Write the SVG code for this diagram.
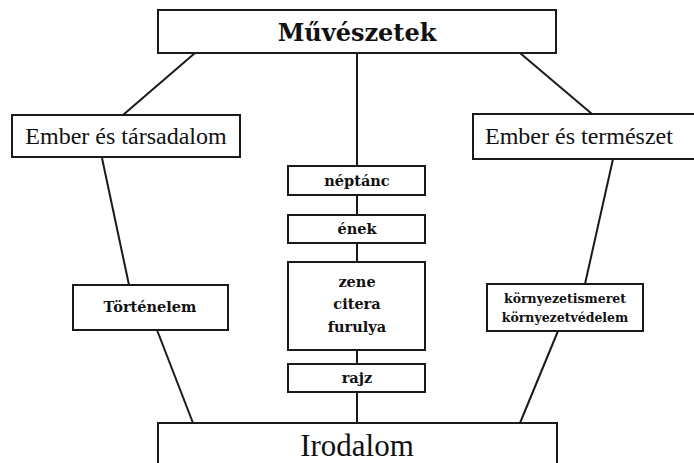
<svg xmlns="http://www.w3.org/2000/svg" width="694" height="463" viewBox="0 0 694 463">
<style>
.box{fill:#fff;stroke:#1a1a1a;stroke-width:2}
.ln{stroke:#1a1a1a;stroke-width:2;fill:none}
text{font-family:"DejaVu Serif","Liberation Serif",serif;fill:#111;text-anchor:middle}
.big{font-size:24px;font-weight:bold}
.mid{font-size:24px;font-family:"Liberation Serif",serif}
.sm{font-size:14.5px;font-weight:bold}
.xs{font-size:12.5px;font-weight:bold}
.ir{font-size:31px;font-family:"Liberation Serif",serif}
</style>
<rect width="694" height="463" fill="#fff"/>
<g id="connectors">
<line class="ln" x1="195" y1="53" x2="123" y2="115"/>
<line class="ln" x1="357" y1="53" x2="357" y2="166"/>
<line class="ln" x1="520" y1="53" x2="592" y2="114"/>
<line class="ln" x1="102" y1="158" x2="129" y2="285"/>
<line class="ln" x1="157" y1="330" x2="193" y2="423"/>
<line class="ln" x1="613" y1="159" x2="585" y2="284"/>
<line class="ln" x1="558" y1="331" x2="520" y2="423"/>
<line class="ln" x1="357" y1="195" x2="357" y2="215"/>
<line class="ln" x1="357" y1="243" x2="357" y2="262"/>
<line class="ln" x1="357" y1="350" x2="357" y2="364"/>
<line class="ln" x1="357" y1="392" x2="357" y2="423"/>
</g>
<g id="muveszetek">
<rect class="box" x="158" y="10" width="398" height="43"/>
<text class="big" x="357" y="41">Művészetek</text>
</g>
<g id="ember-tarsadalom">
<rect class="box" x="12" y="115" width="228" height="42"/>
<text class="mid" x="126" y="144">Ember és társadalom</text>
</g>
<g id="ember-termeszet">
<rect class="box" x="473" y="114" width="240" height="45"/>
<text class="mid" x="485" y="144" style="text-anchor:start">Ember és természet</text>
</g>
<g id="neptanc">
<rect class="box" x="288" y="166" width="137" height="29"/>
<text class="sm" x="357" y="186">néptánc</text>
</g>
<g id="enek">
<rect class="box" x="288" y="215" width="137" height="28"/>
<text class="sm" x="357" y="234">ének</text>
</g>
<g id="zene">
<rect class="box" x="288" y="262" width="137" height="88"/>
<text class="sm" x="357" y="287">zene</text>
<text class="sm" x="357" y="309">citera</text>
<text class="sm" x="357" y="332">furulya</text>
</g>
<g id="rajz">
<rect class="box" x="288" y="364" width="137" height="28"/>
<text class="sm" x="357" y="383">rajz</text>
</g>
<g id="tortenelem">
<rect class="box" x="73" y="285" width="155" height="45"/>
<text class="sm" x="150" y="312">Történelem</text>
</g>
<g id="kornyezet">
<rect class="box" x="487" y="284" width="156" height="47"/>
<text class="xs" x="565" y="303">környezetismeret</text>
<text class="xs" x="565" y="322">környezetvédelem</text>
</g>
<g id="irodalom">
<rect class="box" x="158" y="423" width="399" height="50"/>
<text class="ir" x="357" y="456">Irodalom</text>
</g>
</svg>
